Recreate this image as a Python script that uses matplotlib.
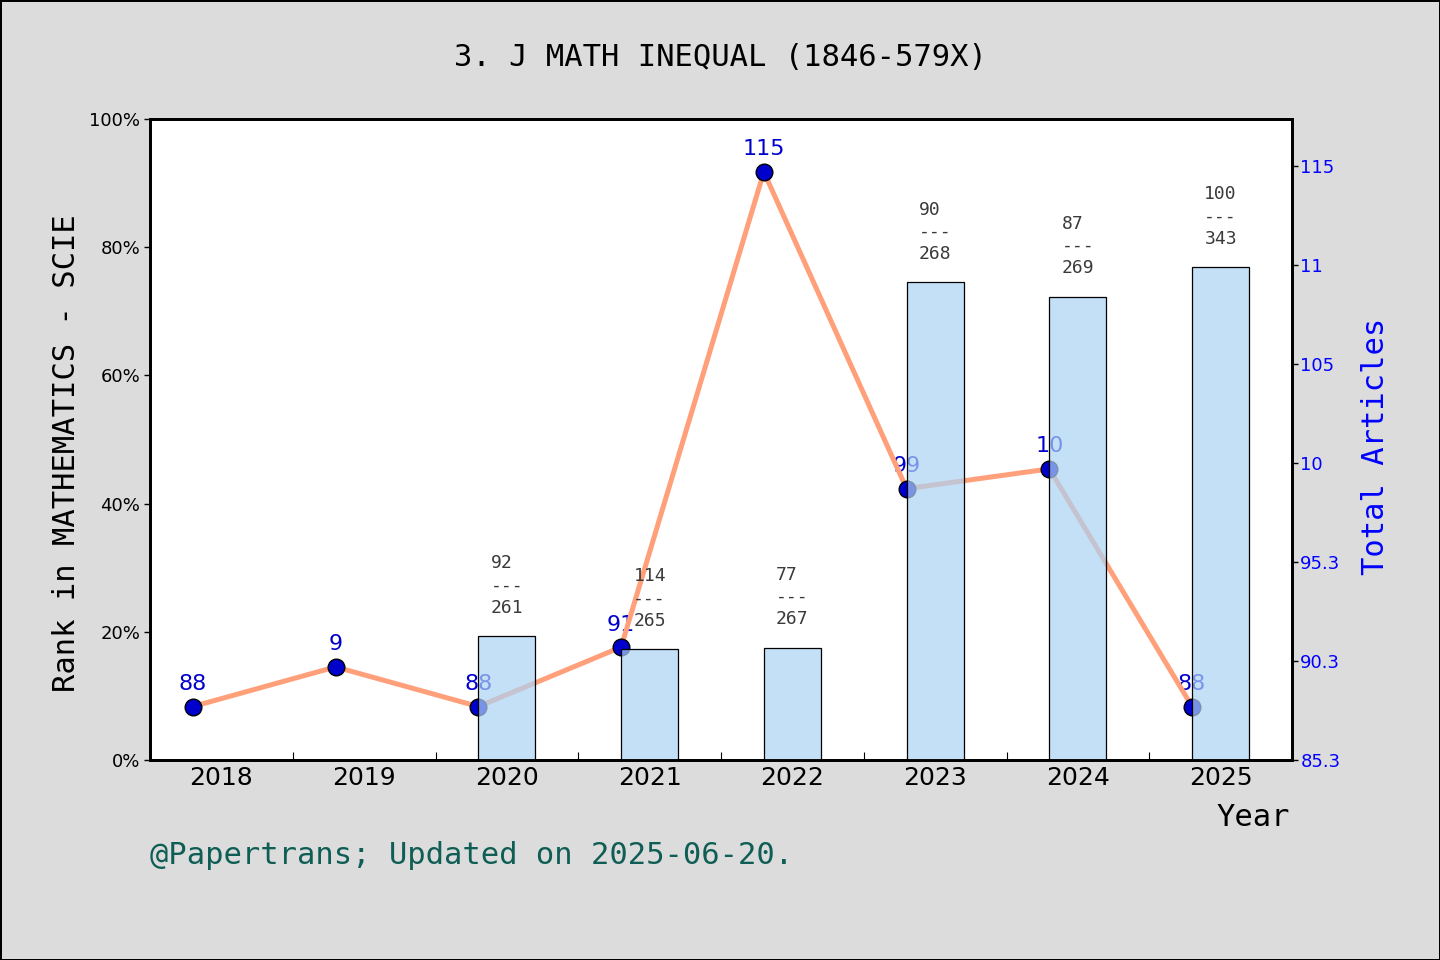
import matplotlib
matplotlib.use("Agg")
import matplotlib.pyplot as plt
from matplotlib.ticker import FixedLocator

# ---- data ----
years = [2018, 2019, 2020, 2021, 2022, 2023, 2024, 2025]
articles = [88, 90, 88, 91, 115, 99, 100, 88]
article_labels = ["88", "9", "88", "91", "115", "99", "10", "88"]

bar_years = [2020, 2021, 2022, 2023, 2024, 2025]
rank_pct = [19.3, 17.3, 17.5, 74.5, 72.3, 76.9]
rank_num = [92, 114, 77, 90, 87, 100]
cat_total = [261, 265, 267, 268, 269, 343]

left_ticks = [0, 20, 40, 60, 80, 100]
left_ticklabels = ["0%", "20%", "40%", "60%", "80%", "100%"]
right_ticks = [85.3, 90.3, 95.3, 100.3, 105.3, 110.3, 115.3]
right_ticklabels = ["85.3", "90.3", "95.3", "10", "105", "11", "115"]

title = "3. J MATH INEQUAL (1846-579X)"
footer = "@Papertrans; Updated on 2025-06-20."

MONO = ["DejaVu Sans Mono"]
SANS = ["DejaVu Sans"]

fig = plt.figure(figsize=(14.4, 9.6), dpi=100, facecolor="#dcdcdc",
                 edgecolor="black", linewidth=2)
ax2 = fig.add_axes([150/1440, 200/960, 1142/1440, 641/960])
ax1 = ax2.twinx()
# bars axis on top of the line axis
ax1.set_zorder(2)
ax2.set_zorder(1)
ax1.patch.set_visible(False)
ax2.set_facecolor("white")

# ---- line (total articles) on ax2 ----
xline = [y - 0.2 for y in years]
ax2.plot(xline, articles, color="#FFA07A", lw=3.6, marker="o", ms=12,
         mfc="#0000CD", mec="black", mew=1.0, zorder=2)
for x, v, lab in zip(xline, articles, article_labels):
    ax2.annotate(lab, (x, v), xytext=(0, 9), textcoords="offset points",
                 ha="center", va="bottom", color="#0000CD", fontsize=16,
                 zorder=1)

# ---- bars (rank) on ax1 ----
ax1.bar(bar_years, rank_pct, width=0.4, color=(0.675, 0.827, 0.957, 0.7),
        edgecolor="black", linewidth=0.9, zorder=2)
for x, p, r, t in zip(bar_years, rank_pct, rank_num, cat_total):
    ax1.annotate(f"{r}\n---\n{t}", (x, p), xytext=(0, 14),
                 textcoords="offset points", ha="center", va="bottom",
                 multialignment="left", color="#3a3a3a", fontsize=13,
                 family=MONO, linespacing=1.3, zorder=3)

# ---- axes setup ----
ax2.set_xlim(2017.5, 2025.5)
ax2.set_ylim(85.3, 117.67)
ax1.set_ylim(0, 100)

ax1.yaxis.tick_left()
ax1.yaxis.set_label_position("left")
ax2.yaxis.tick_right()
ax2.yaxis.set_label_position("right")

ax1.set_yticks(left_ticks)
ax1.set_yticklabels(left_ticklabels, fontsize=13, family=SANS)
ax1.tick_params(axis="y", direction="out", length=4, width=1, pad=3)

ax2.set_yticks(right_ticks)
ax2.set_yticklabels(right_ticklabels, fontsize=13, color="blue", family=SANS)
ax2.tick_params(axis="y", direction="out", length=4, width=1, pad=2,
                colors="blue")
ax2.tick_params(axis="y", which="both", color="black")

ax2.set_xticks(years)
ax2.set_xticklabels([str(y) for y in years], fontsize=18, family=SANS)
ax2.tick_params(axis="x", which="major", length=0, pad=4)
ax2.xaxis.set_minor_locator(FixedLocator([y + 0.5 for y in years[:-1]]))
ax2.tick_params(axis="x", which="minor", direction="in", length=6, width=0.8)

for ax in (ax1, ax2):
    for s in ax.spines.values():
        s.set_linewidth(2)
        s.set_color("black")

# ---- texts ----
fig.text(0.5, 1 - 57/960, title, ha="center", va="center", fontsize=22,
         family=MONO, color="black")
fig.text(67/1440, 1 - 453/960, "Rank in MATHEMATICS - SCIE", rotation=90,
         ha="center", va="center", fontsize=22, family=MONO)
fig.text(1375/1440, 1 - 446/960, "Total Articles", rotation=90,
         ha="center", va="center", fontsize=22, family=MONO, color="blue")
fig.text(1290/1440, 1 - 817/960, "Year", ha="right", va="center",
         fontsize=22, family=MONO)
fig.text(150/1440, 1 - 855/960, footer, ha="left", va="center", fontsize=22,
         family=MONO, color="#0f5e55")

fig.savefig("out.png", dpi=100, facecolor=fig.get_facecolor(),
            edgecolor=fig.get_edgecolor())
